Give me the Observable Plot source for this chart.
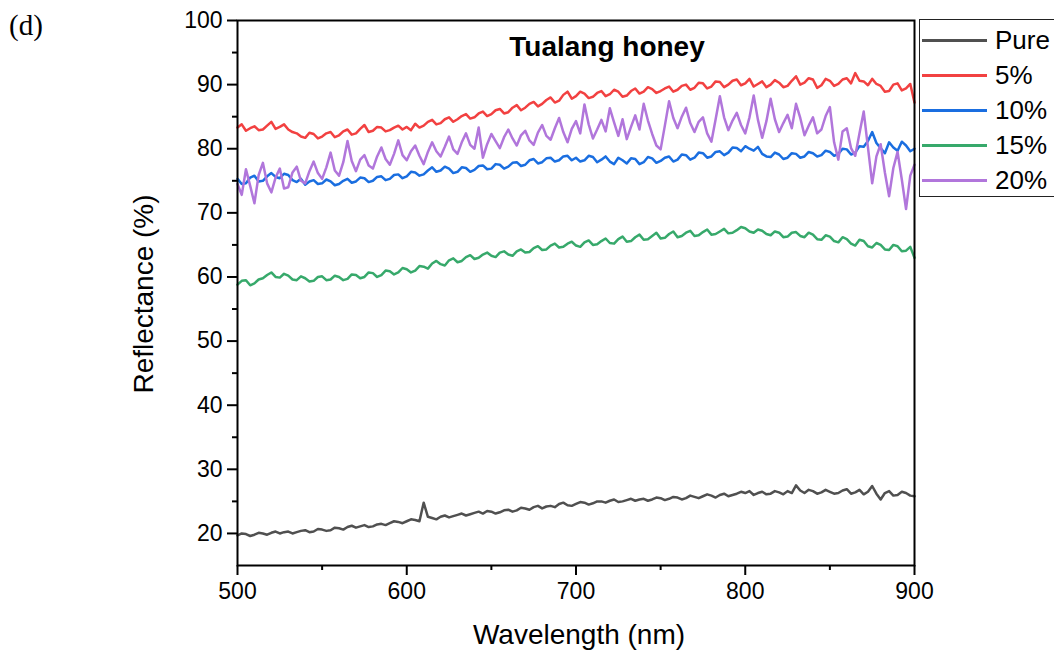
<!DOCTYPE html>
<html>
<head>
<meta charset="utf-8">
<script src="https://cdn.jsdelivr.net/npm/d3@7"></script>
<script src="https://cdn.jsdelivr.net/npm/@observablehq/plot@0.6"></script>
<style>
  html, body { margin: 0; padding: 0; background: #fff; overflow: hidden; }
  #wrap { position: relative; width: 1054px; height: 651px; font-family: "Liberation Sans", Arial, sans-serif; }
  #panel { position: absolute; left: 9px; top: 9px; font-family: "Liberation Serif", "Times New Roman", serif; font-size: 29px; color: #000; }
  #legend { position: absolute; left: 919px; top: 19px; width: 150px; height: 178px; border: 1.5px solid #222; box-sizing: border-box; }
  .row { position: absolute; left: 2px; height: 30px; display: flex; align-items: center; }
  .sw { width: 65px; height: 0; border-top: 3px solid; margin-right: 8px; }
  .lab { font-size: 26px; color: #000; }
</style>
</head>
<body>
<div id="wrap">
  <div id="chart"></div>
  <div id="panel">(d)</div>
  <div id="legend"></div>
</div>
<script>
const wavelengths = [500,502.5,505,507.5,510,512.5,515,517.5,520,522.5,525,527.5,530,532.5,535,537.5,540,542.5,545,547.5,550,552.5,555,557.5,560,562.5,565,567.5,570,572.5,575,577.5,580,582.5,585,587.5,590,592.5,595,597.5,600,602.5,605,607.5,610,612.5,615,617.5,620,622.5,625,627.5,630,632.5,635,637.5,640,642.5,645,647.5,650,652.5,655,657.5,660,662.5,665,667.5,670,672.5,675,677.5,680,682.5,685,687.5,690,692.5,695,697.5,700,702.5,705,707.5,710,712.5,715,717.5,720,722.5,725,727.5,730,732.5,735,737.5,740,742.5,745,747.5,750,752.5,755,757.5,760,762.5,765,767.5,770,772.5,775,777.5,780,782.5,785,787.5,790,792.5,795,797.5,800,802.5,805,807.5,810,812.5,815,817.5,820,822.5,825,827.5,830,832.5,835,837.5,840,842.5,845,847.5,850,852.5,855,857.5,860,862.5,865,867.5,870,872.5,875,877.5,880,882.5,885,887.5,890,892.5,895,897.5,900];

const seriesNames = ["Pure", "5%", "10%", "15%", "20%"];
const seriesColors = ["#505050", "#F24141", "#1A6EE0", "#37A96B", "#B176DB"];

const pure = [19.7,20.0,19.9,19.6,19.8,20.1,20.0,19.8,20.1,20.3,20.0,20.2,20.3,20.0,20.2,20.4,20.5,20.2,20.3,20.7,20.6,20.4,20.5,20.9,20.8,20.6,21.0,21.2,20.9,21.1,21.3,21.0,21.1,21.4,21.5,21.3,21.6,21.9,21.8,21.6,21.9,22.2,22.1,21.9,24.8,22.6,22.4,22.2,22.6,22.8,22.5,22.7,22.9,23.1,22.8,23.0,23.2,23.4,23.1,23.5,23.4,23.1,23.3,23.6,23.7,23.4,23.6,24.0,23.9,23.7,24.1,24.3,23.9,24.2,24.3,24.1,24.6,24.8,24.4,24.3,24.6,24.9,24.8,24.5,24.7,25.0,25.0,24.8,25.1,25.3,24.9,25.0,25.2,25.4,25.1,25.3,25.4,25.1,25.3,25.6,25.5,25.2,25.4,25.7,25.6,25.3,25.5,25.9,25.7,25.5,25.8,26.1,25.9,25.6,26.0,26.2,25.8,26.0,26.2,26.5,26.3,26.6,26.0,26.3,26.5,26.1,26.2,26.6,26.4,26.1,26.6,26.3,27.5,26.7,26.3,26.8,26.6,26.2,26.4,26.8,26.5,26.2,26.3,26.7,26.9,26.2,26.4,26.8,26.1,26.5,27.4,26.2,25.3,26.3,26.6,25.9,26.0,26.5,26.3,25.9,25.8];

const pct5 = [83.3,83.8,82.8,83.2,83.5,82.9,83.0,83.6,84.2,83.1,83.4,83.8,83.0,82.6,82.4,81.9,81.7,82.5,82.3,81.6,81.9,82.4,82.6,81.8,82.1,82.7,83.0,82.2,82.4,83.1,83.7,82.6,82.8,83.4,83.3,82.7,82.9,83.3,83.6,83.0,83.4,82.9,83.9,83.3,83.6,84.2,84.5,83.8,84.0,84.6,84.9,84.2,84.6,85.1,85.4,84.7,84.9,85.5,85.8,85.1,85.4,86.0,86.2,85.5,85.7,86.4,86.8,86.0,86.4,87.0,87.3,86.6,87.0,87.6,88.0,87.2,87.5,88.4,88.9,87.8,88.2,88.9,88.6,87.9,88.1,88.7,89.0,88.2,88.5,89.2,88.9,88.1,88.3,89.0,89.4,88.6,88.9,89.6,89.3,88.7,89.0,89.4,89.7,88.9,89.2,89.8,90.0,89.2,89.5,90.3,90.2,89.4,89.7,90.5,90.4,89.6,90.0,90.6,90.8,89.9,90.2,90.9,89.7,90.1,90.5,89.6,90.0,90.7,90.3,89.6,89.8,90.6,91.3,90.0,90.3,91.0,90.8,89.5,89.9,90.9,90.6,89.8,90.1,90.8,91.0,90.2,91.8,90.6,90.5,89.9,90.9,90.1,89.8,88.9,89.0,90.0,90.2,89.1,89.4,90.1,87.2];

const pct10 = [75.3,74.5,74.6,75.5,75.8,74.9,75.0,75.7,76.2,75.6,75.4,76.1,75.9,75.1,74.8,75.3,74.4,74.9,75.1,74.5,74.6,75.2,74.9,74.3,74.5,75.0,75.3,74.7,74.9,75.5,75.4,74.8,75.0,75.6,75.7,75.1,75.3,75.9,76.0,75.4,75.7,76.4,76.3,75.8,76.0,76.6,77.1,76.4,76.6,77.2,76.9,76.2,76.4,77.1,77.0,76.4,76.7,77.3,77.4,76.8,76.9,77.6,77.5,76.9,77.2,77.8,77.9,77.3,77.5,78.2,78.4,77.7,77.9,78.5,78.6,78.0,78.2,78.8,78.9,78.2,78.6,78.0,78.2,78.9,78.7,77.9,78.3,78.8,78.0,77.6,78.6,78.2,77.7,78.5,78.4,77.6,77.9,78.7,78.5,77.8,78.1,78.6,78.8,78.0,78.3,79.1,79.0,78.3,78.6,79.4,79.3,78.6,78.8,79.5,79.6,79.0,79.4,80.2,80.1,79.6,80.4,80.0,79.7,80.3,79.2,78.8,78.7,79.4,79.1,78.4,78.6,79.3,79.2,78.6,78.8,79.5,79.3,78.8,79.0,79.7,79.5,78.9,79.2,80.0,79.9,79.1,79.4,80.4,80.3,81.2,82.6,80.9,80.1,79.3,81.0,80.2,79.7,81.1,80.5,79.6,80.0];

const pct15 = [58.8,59.4,59.5,58.7,59.0,59.6,59.8,60.3,60.7,60.0,59.9,60.5,60.2,59.6,59.5,60.1,59.8,59.3,59.4,60.0,60.1,59.5,59.6,60.2,60.0,59.5,59.7,60.4,60.3,59.8,60.0,60.7,60.6,60.0,60.3,61.0,60.9,60.4,60.7,61.4,61.2,60.7,61.0,61.7,61.6,61.3,62.1,62.5,62.0,61.8,62.6,62.9,62.3,62.5,63.1,63.4,62.8,63.0,63.5,63.8,63.3,63.1,63.8,64.0,63.5,63.3,64.0,64.3,63.8,63.9,64.5,64.8,64.2,64.3,64.9,65.2,64.6,64.7,65.2,65.5,64.9,64.7,65.4,65.7,65.0,65.1,65.6,66.0,65.3,65.2,65.9,66.3,65.5,65.6,66.2,66.6,65.8,65.9,66.4,66.9,66.0,66.1,66.7,67.1,66.2,66.4,66.9,67.2,66.4,66.5,67.0,67.4,66.6,66.7,67.1,67.5,66.8,66.9,67.3,67.8,67.6,67.1,66.9,67.4,67.2,66.7,66.5,67.1,66.9,66.2,66.3,66.9,67.0,66.4,66.2,66.9,66.6,65.9,65.8,66.5,66.3,65.6,65.4,66.2,65.9,65.2,64.9,65.8,65.6,64.8,64.6,65.3,65.0,64.3,64.2,65.0,64.8,64.0,64.1,64.7,63.0];

const pct20 = [74.5,72.8,76.8,74.2,71.5,75.9,77.8,74.6,73.2,75.5,76.9,73.8,74.0,76.3,77.2,75.0,74.6,76.5,78.0,76.2,75.3,77.1,79.4,76.6,75.8,77.9,81.2,78.1,76.5,78.3,79.0,77.4,76.9,78.8,80.2,78.4,77.5,79.2,81.3,79.0,78.2,79.6,80.5,78.9,77.6,79.5,81.0,79.6,78.8,80.3,81.9,79.9,79.2,81.0,82.4,80.6,80.0,83.3,78.6,80.7,82.3,81.2,80.1,81.8,83.0,81.6,80.5,82.1,82.8,81.3,80.6,82.5,83.7,82.0,81.4,83.2,84.8,82.6,81.0,83.1,84.3,82.4,86.9,83.8,81.6,83.0,84.5,82.7,86.3,84.1,82.0,84.6,81.5,83.4,85.2,83.0,87.0,84.4,82.3,80.5,79.9,83.6,87.4,84.8,83.2,85.0,86.4,84.0,82.6,84.2,84.9,82.4,81.1,84.6,88.2,84.9,82.9,84.4,85.6,83.7,82.4,84.9,88.3,84.5,81.7,84.3,87.8,84.6,82.6,84.0,85.3,83.2,87.0,84.8,82.1,83.6,84.9,82.4,83.0,85.1,86.5,81.0,78.3,82.7,83.2,80.1,78.9,82.4,85.8,80.2,74.6,78.8,80.7,76.3,72.6,77.0,79.5,75.2,70.6,75.8,77.5];

const xTicks = [500, 600, 700, 800, 900];
const xMinor = [550, 650, 750, 850];
const yTicks = [20, 30, 40, 50, 60, 70, 80, 90, 100];
const yMinor = [25, 35, 45, 55, 65, 75, 85, 95];

const seriesValues = [pure, pct5, pct10, pct15, pct20];
const tables = seriesValues.map((vals, i) =>
  wavelengths.map((w, j) => ({w, v: vals[j], s: seriesNames[i]}))
);

const font = "'Liberation Sans', Arial, sans-serif";

const chart = Plot.plot({
  width: 1054,
  height: 651,
  marginLeft: 237,
  marginRight: 140,
  marginTop: 20,
  marginBottom: 86,
  style: {fontFamily: font, color: "#000", background: "#fff", overflow: "visible"},
  x: {domain: [500, 900]},
  y: {domain: [15, 100]},
  marks: [
    ...tables.map((t, i) => Plot.line(t, {x: "w", y: "v", stroke: seriesColors[i], strokeWidth: 2.5, strokeLinejoin: "round"})),
    Plot.frame({stroke: "#000", strokeWidth: 2}),
    Plot.axisX({ticks: xTicks, tickSize: 10, tickPadding: 7, fontSize: 23, label: null, strokeWidth: 2}),
    Plot.axisX({ticks: xMinor, tickSize: 5, tickFormat: () => "", label: null, strokeWidth: 2}),
    Plot.axisY({ticks: yTicks, tickSize: 10, tickPadding: 5, fontSize: 23, label: null, strokeWidth: 2}),
    Plot.axisY({ticks: yMinor, tickSize: 5, tickFormat: () => "", label: null, strokeWidth: 2}),
    Plot.text(["Tualang honey"], {frameAnchor: "top", dx: 31, dy: 16, fontSize: 28, fontWeight: "bold", fill: "#000"}),
    Plot.text(["Wavelength (nm)"], {frameAnchor: "bottom", dx: 3, dy: 78, fontSize: 28, fill: "#000"}),
    Plot.text(["Reflectance (%)"], {frameAnchor: "left", textAnchor: "middle", dx: -93, dy: 1, rotate: -90, fontSize: 28, fill: "#000"})
  ]
});
document.getElementById("chart").appendChild(chart);

const legend = document.getElementById("legend");
seriesNames.forEach((name, i) => {
  const row = document.createElement("div");
  row.className = "row";
  row.style.top = (5 + i * 35) + "px";
  const sw = document.createElement("div");
  sw.className = "sw";
  sw.style.borderTopColor = seriesColors[i];
  const lab = document.createElement("span");
  lab.className = "lab";
  lab.textContent = name;
  row.appendChild(sw);
  row.appendChild(lab);
  legend.appendChild(row);
});
</script>
</body>
</html>
